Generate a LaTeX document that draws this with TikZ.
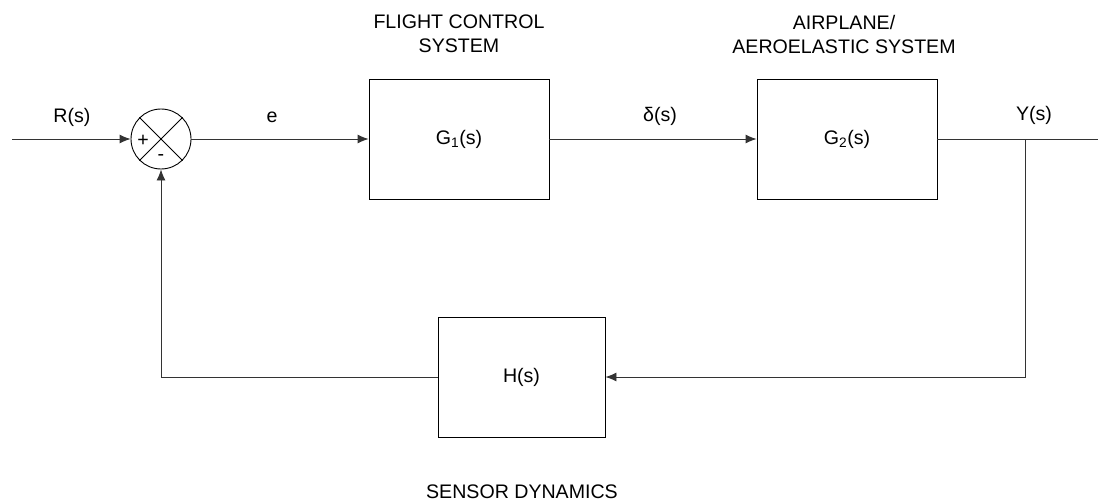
\documentclass[tikz,border=0pt]{standalone}
\usepackage{fontspec}
\setmainfont{Liberation Sans}
\usetikzlibrary{arrows.meta}
\begin{document}
\begin{tikzpicture}[x=1pt,y=-1pt,
  every node/.style={font=\fontsize{19.6}{24}\selectfont},
  block/.style={draw, line width=0.9pt, minimum width=180pt, minimum height=120pt, inner sep=0pt},
  sumnode/.style={draw, circle, line width=0.9pt, minimum size=60pt, inner sep=0pt},
  wire/.style={line width=0.9pt, draw=black!80},
  arr/.style={wire, -{Latex[length=11pt,width=9pt]}},
  lbl/.style={inner sep=0pt, align=center}]
\useasboundingbox (0,0) rectangle (1106,503);
% blocks
\node[sumnode] (sum) at (161,139) {};
\draw[line width=0.8pt] (sum.north west) -- (sum.south east);
\draw[line width=0.8pt] (sum.north east) -- (sum.south west);
\node[lbl] (plus) at (143,141) {+};
\node[lbl] (minus) at (161,158) {-};
\node[block] (g1) at (459,139) {G\textsubscript{1}(s)};
\node[block] (g2) at (847,139) {G\textsubscript{2}(s)};
\node[block, minimum width=167pt] (h) at (521.5,377) {H(s)};
% coordinates
\coordinate (in) at (12,139);
\coordinate (br) at (1025,139);
\coordinate (out) at (1098,139);
% connectors
\draw[arr] (in) -- (sum.west);
\draw[arr] (sum.east) -- (g1.west);
\draw[arr] (g1.east) -- (g2.west);
\draw[wire] (g2.east) -- (out);
\draw[arr] (br) |- (h.east);
\draw[arr] (h.west) -| (sum.south);
% labels
\node[lbl] (rs) at (72,117) {R(s)};
\node[lbl] (e) at (272,117) {e};
\node[lbl] (ds) at (660,116) {δ(s)};
\node[lbl] (ys) at (1034,115) {Y(s)};
\node[lbl] (fcs) at (459,34) {FLIGHT CONTROL\\SYSTEM};
\node[lbl] (aas) at (844,34) {AIRPLANE/\\AEROELASTIC SYSTEM};
\node[lbl] (sd) at (522,492) {SENSOR DYNAMICS};
\end{tikzpicture}
\end{document}
